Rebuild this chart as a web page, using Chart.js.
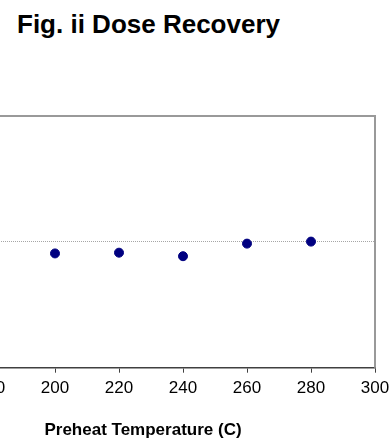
<!DOCTYPE html>
<html>
<head>
<meta charset="utf-8">
<script src="https://cdn.jsdelivr.net/npm/chart.js@4/dist/chart.umd.min.js"></script>
<style>
  html, body { margin: 0; padding: 0; background: #fff; overflow: hidden; }
  body { width: 391px; height: 441px; position: relative; }
  #title {
    position: absolute; left: 17px; top: 11px;
    font: bold 26px "Liberation Sans", Arial, sans-serif; line-height: 26px;
    color: #000; white-space: nowrap;
  }
  #wrap { position: absolute; left: -120px; top: 0; width: 531px; height: 441px; }
</style>
</head>
<body>
<div id="title">Fig. ii Dose Recovery</div>
<div id="wrap"><canvas id="chart"></canvas></div>
<script>
// donnees
const temperatures = [200, 220, 240, 260, 280];
const doseRatio = [0.954, 0.957, 0.943, 0.993, 1.001];
const xTickValues = [160, 180, 200, 220, 240, 260, 280, 300];
const yTickValues = [0.5, 1.0, 1.5];

const FONT = '"Liberation Sans", Arial, sans-serif';

// cadre gris haut/droite de la zone de trace
const plotBox = {
  id: 'plotBox',
  afterDraw(chart) {
    const { ctx, chartArea: a } = chart;
    ctx.save();
    ctx.strokeStyle = '#999999';
    ctx.lineWidth = 2;
    ctx.beginPath();
    ctx.moveTo(a.left, a.top);
    ctx.lineTo(a.right, a.top);
    ctx.lineTo(a.right, a.bottom);
    ctx.stroke();
    ctx.restore();
  }
};

new Chart(document.getElementById('chart'), {
  type: 'scatter',
  data: {
    datasets: [{
      label: 'Dose recovery',
      data: temperatures.map((t, i) => ({ x: t, y: doseRatio[i] })),
      backgroundColor: '#000080',
      borderColor: '#000080',
      pointStyle: 'circle',
      pointRadius: 4.5,
      pointBorderWidth: 1
    }]
  },
  options: {
    responsive: true,
    maintainAspectRatio: false,
    animation: false,
    layout: { padding: { top: 116, right: 36, left: 31, bottom: 0 } },
    plugins: { legend: { display: false }, tooltip: { enabled: false } },
    scales: {
      x: {
        type: 'linear',
        min: 155,
        max: 300,
        afterBuildTicks: scale => { scale.ticks = xTickValues.map(v => ({ value: v })); },
        grid: { drawOnChartArea: false, color: '#404040', tickLength: 5, lineWidth: 1 },
        border: { color: '#404040', width: 1.5 },
        ticks: { color: '#000', font: { family: FONT, size: 17 }, padding: 5, maxRotation: 0 },
        title: {
          display: true,
          text: 'Preheat Temperature (C)',
          color: '#000',
          font: { family: FONT, size: 17, weight: 'bold' },
          padding: { top: 17.5, bottom: 0 }
        }
      },
      y: {
        min: 0.5,
        max: 1.5,
        afterBuildTicks: scale => { scale.ticks = yTickValues.map(v => ({ value: v })); },
        ticks: { display: false },
        grid: {
          drawTicks: false,
          color: c => (c.tick && c.tick.value === 1 ? '#a6a6a6' : 'rgba(0,0,0,0)'),
          lineWidth: 1
        },
        border: { display: false, dash: [1, 1] }
      }
    }
  },
  plugins: [plotBox]
});
</script>
</body>
</html>
